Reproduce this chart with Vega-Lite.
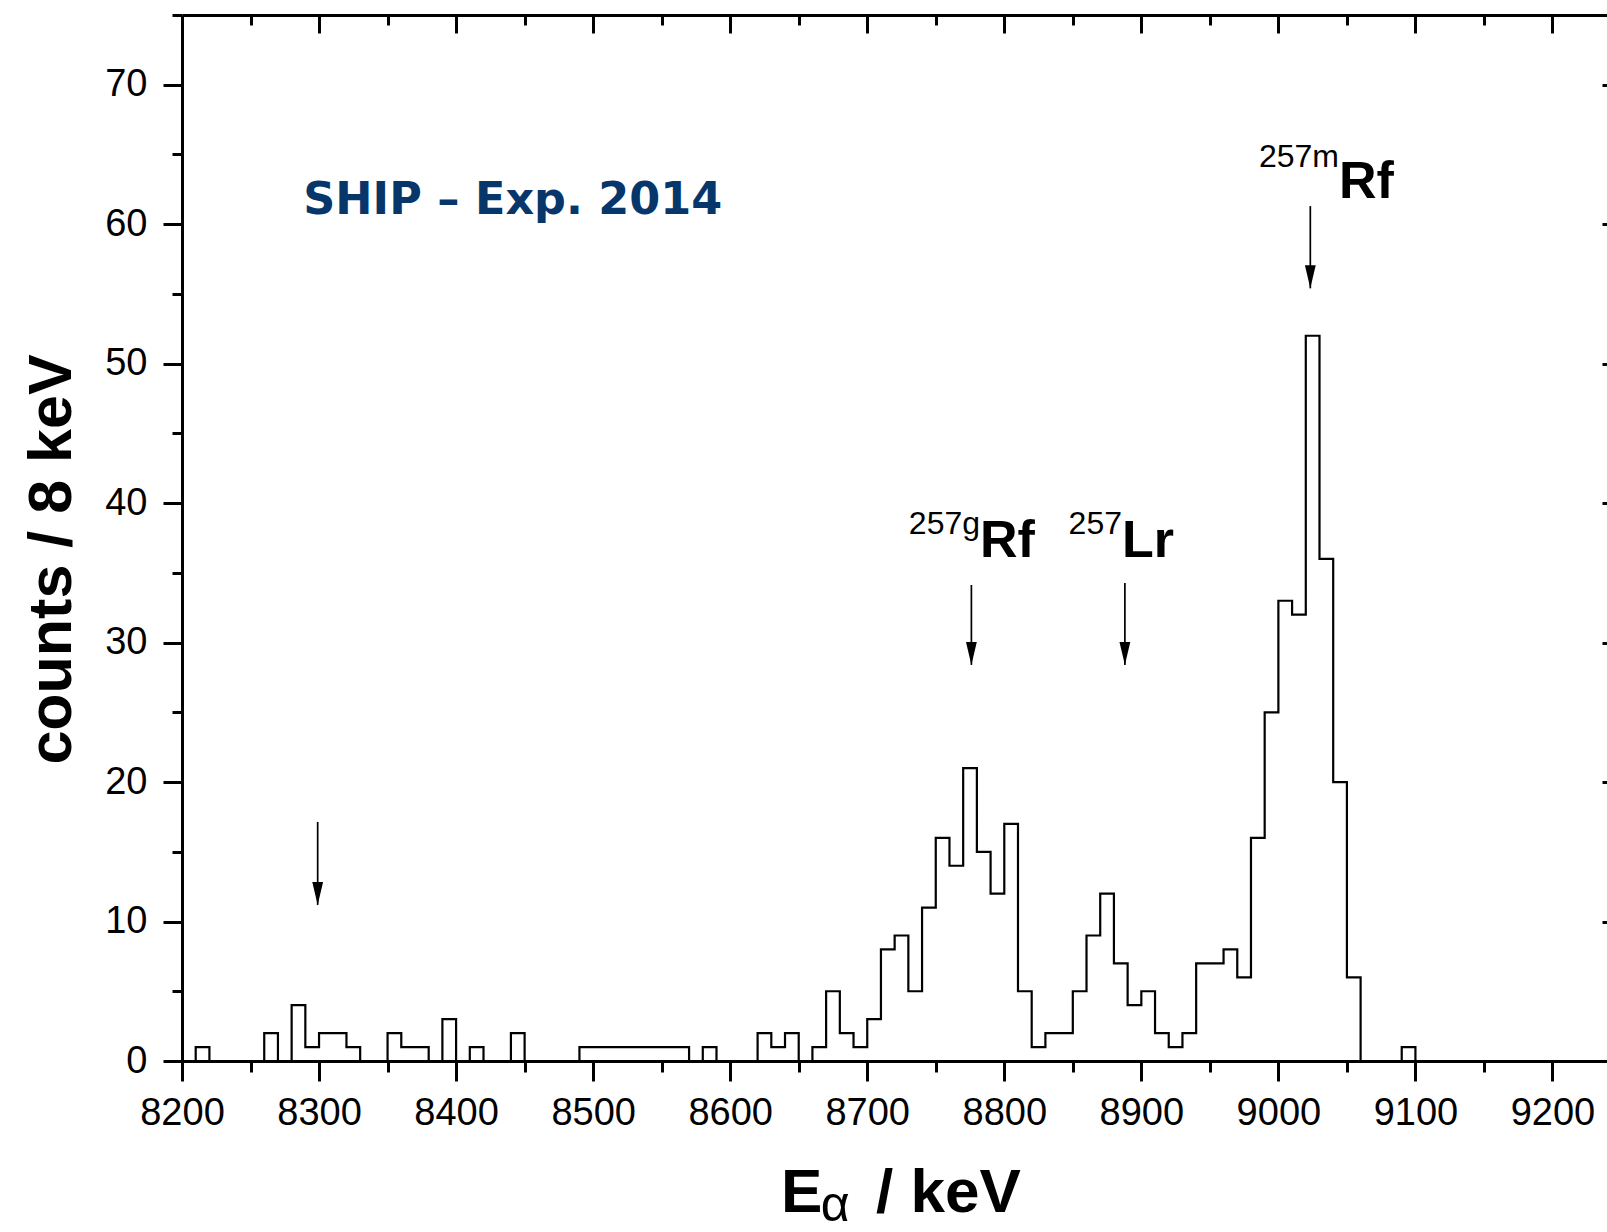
{
  "$schema": "https://vega.github.io/schema/vega-lite/v6.json",
  "width": 1439,
  "height": 1046,
  "autosize": {"type": "none"},
  "padding": {"left": 182, "top": 15, "right": -14, "bottom": 171},
  "background": "white",
  "config": {
    "view": {"stroke": null},
    "axis": {
      "grid": false,
      "domainColor": "black",
      "tickColor": "black",
      "domainWidth": 3,
      "tickWidth": 3,
      "labelColor": "black",
      "labelFont": "Liberation Sans",
      "labelFontSize": 38,
      "labelFlush": false,
      "labelOverlap": false
    }
  },
  "datasets": {
    "hist": [
      {"energy": 8200, "counts": 0}, {"energy": 8210, "counts": 1}, {"energy": 8220, "counts": 0},
      {"energy": 8230, "counts": 0}, {"energy": 8240, "counts": 0}, {"energy": 8250, "counts": 0},
      {"energy": 8260, "counts": 2}, {"energy": 8270, "counts": 0}, {"energy": 8280, "counts": 4},
      {"energy": 8290, "counts": 1}, {"energy": 8300, "counts": 2}, {"energy": 8310, "counts": 2},
      {"energy": 8320, "counts": 1}, {"energy": 8330, "counts": 0}, {"energy": 8340, "counts": 0},
      {"energy": 8350, "counts": 2}, {"energy": 8360, "counts": 1}, {"energy": 8370, "counts": 1},
      {"energy": 8380, "counts": 0}, {"energy": 8390, "counts": 3}, {"energy": 8400, "counts": 0},
      {"energy": 8410, "counts": 1}, {"energy": 8420, "counts": 0}, {"energy": 8430, "counts": 0},
      {"energy": 8440, "counts": 2}, {"energy": 8450, "counts": 0}, {"energy": 8460, "counts": 0},
      {"energy": 8470, "counts": 0}, {"energy": 8480, "counts": 0}, {"energy": 8490, "counts": 1},
      {"energy": 8500, "counts": 1}, {"energy": 8510, "counts": 1}, {"energy": 8520, "counts": 1},
      {"energy": 8530, "counts": 1}, {"energy": 8540, "counts": 1}, {"energy": 8550, "counts": 1},
      {"energy": 8560, "counts": 1}, {"energy": 8570, "counts": 0}, {"energy": 8580, "counts": 1},
      {"energy": 8590, "counts": 0}, {"energy": 8600, "counts": 0}, {"energy": 8610, "counts": 0},
      {"energy": 8620, "counts": 2}, {"energy": 8630, "counts": 1}, {"energy": 8640, "counts": 2},
      {"energy": 8650, "counts": 0}, {"energy": 8660, "counts": 1}, {"energy": 8670, "counts": 5},
      {"energy": 8680, "counts": 2}, {"energy": 8690, "counts": 1}, {"energy": 8700, "counts": 3},
      {"energy": 8710, "counts": 8}, {"energy": 8720, "counts": 9}, {"energy": 8730, "counts": 5},
      {"energy": 8740, "counts": 11}, {"energy": 8750, "counts": 16}, {"energy": 8760, "counts": 14},
      {"energy": 8770, "counts": 21}, {"energy": 8780, "counts": 15}, {"energy": 8790, "counts": 12},
      {"energy": 8800, "counts": 17}, {"energy": 8810, "counts": 5}, {"energy": 8820, "counts": 1},
      {"energy": 8830, "counts": 2}, {"energy": 8840, "counts": 2}, {"energy": 8850, "counts": 5},
      {"energy": 8860, "counts": 9}, {"energy": 8870, "counts": 12}, {"energy": 8880, "counts": 7},
      {"energy": 8890, "counts": 4}, {"energy": 8900, "counts": 5}, {"energy": 8910, "counts": 2},
      {"energy": 8920, "counts": 1}, {"energy": 8930, "counts": 2}, {"energy": 8940, "counts": 7},
      {"energy": 8950, "counts": 7}, {"energy": 8960, "counts": 8}, {"energy": 8970, "counts": 6},
      {"energy": 8980, "counts": 16}, {"energy": 8990, "counts": 25}, {"energy": 9000, "counts": 33},
      {"energy": 9010, "counts": 32}, {"energy": 9020, "counts": 52}, {"energy": 9030, "counts": 36},
      {"energy": 9040, "counts": 20}, {"energy": 9050, "counts": 6}, {"energy": 9060, "counts": 0},
      {"energy": 9070, "counts": 0}, {"energy": 9080, "counts": 0}, {"energy": 9090, "counts": 1},
      {"energy": 9100, "counts": 0}
    ],
    "arrows": [
      {"x": 8299, "y1": 17.14, "y2": 11.19},
      {"x": 8776, "y1": 34.13, "y2": 28.4},
      {"x": 8888, "y1": 34.27, "y2": 28.4},
      {"x": 9023.3, "y1": 61.3, "y2": 55.4}
    ],
    "sup": [
      {"x": 8782.3, "y": 37.79, "t": "257g"},
      {"x": 8885.9, "y": 37.79, "t": "257"},
      {"x": 9044.2, "y": 64.1, "t": "257m"}
    ],
    "nuclide": [
      {"x": 8782.3, "y": 36.14, "t": "Rf"},
      {"x": 8885.9, "y": 36.14, "t": "Lr"},
      {"x": 9044.2, "y": 61.86, "t": "Rf"}
    ],
    "title": [
      {"x": 8288.5, "y": 60.73, "t": "SHIP – Exp. 2014"}
    ],
    "xtitle": [
      {"x": 8637, "y": -10.83, "t": "E"},
      {"x": 8706.4, "y": -10.83, "t": "/ keV"}
    ],
    "xsub": [
      {"x": 8666, "y": -11.45, "t": "α"}
    ]
  },
  "resolve": {"axis": {"x": "independent", "y": "independent"}},
  "layer": [
    {
      "data": {"name": "hist"},
      "mark": {"type": "line", "interpolate": "step-after", "color": "black", "strokeWidth": 2.2},
      "encoding": {
        "x": {
          "field": "energy", "type": "quantitative",
          "scale": {"domain": [8200, 9250], "nice": false, "zero": false},
          "axis": {"orient": "bottom", "values": [8200, 8300, 8400, 8500, 8600, 8700, 8800, 8900, 9000, 9100, 9200], "format": "d", "tickSize": 20, "labelPadding": 13, "title": null, "domain": true}
        },
        "y": {
          "field": "counts", "type": "quantitative",
          "scale": {"domain": [0, 75], "nice": false, "zero": false},
          "axis": {
            "orient": "left", "values": [0, 10, 20, 30, 40, 50, 60, 70], "format": "d", "tickSize": 19, "labelPadding": 16, "domain": true,
            "title": "counts / 8 keV", "titleFont": "Liberation Sans", "titleFontSize": 61, "titleFontWeight": "bold", "titleColor": "black",
            "titleAngle": 270, "titleAlign": "center", "titleBaseline": "alphabetic", "titleX": -112, "titleY": 544
          }
        }
      }
    },
    {
      "data": {"name": "arrows"},
      "mark": {"type": "rule", "color": "black", "strokeWidth": 1.7},
      "encoding": {
        "x": {
          "field": "x", "type": "quantitative",
          "scale": {"domain": [8200, 9250], "nice": false, "zero": false},
          "axis": {"orient": "bottom", "values": [8250, 8350, 8450, 8550, 8650, 8750, 8850, 8950, 9050, 9150, 9250], "tickSize": 11, "labels": false, "domain": false, "title": null}
        },
        "y": {
          "field": "y1", "type": "quantitative",
          "scale": {"domain": [0, 75], "nice": false, "zero": false},
          "axis": {"orient": "left", "values": [5, 15, 25, 35, 45, 55, 65, 75], "tickSize": 10, "labels": false, "domain": false, "title": null}
        },
        "y2": {"field": "y2"}
      }
    },
    {
      "data": {"name": "arrows"},
      "mark": {"type": "point", "shape": "M -0.47 -2 L 0.47 -2 L 0 0 Z", "size": 529, "filled": true, "color": "black", "opacity": 1, "strokeWidth": 0},
      "encoding": {
        "x": {
          "field": "x", "type": "quantitative",
          "scale": {"domain": [8200, 9250], "nice": false, "zero": false},
          "axis": {"orient": "top", "values": [8200, 8300, 8400, 8500, 8600, 8700, 8800, 8900, 9000, 9100, 9200], "tickSize": -18, "labels": false, "domain": true, "title": null}
        },
        "y": {
          "field": "y2", "type": "quantitative",
          "scale": {"domain": [0, 75], "nice": false, "zero": false},
          "axis": {"orient": "right", "values": [0, 10, 20, 30, 40, 50, 60, 70], "tickSize": -19, "labels": false, "domain": true, "title": null}
        }
      }
    },
    {
      "data": {"name": "sup"},
      "mark": {"type": "text", "align": "right", "baseline": "alphabetic", "font": "Liberation Sans", "fontSize": 32, "color": "black"},
      "encoding": {
        "x": {
          "field": "x", "type": "quantitative",
          "scale": {"domain": [8200, 9250], "nice": false, "zero": false},
          "axis": {"orient": "top", "values": [8250, 8350, 8450, 8550, 8650, 8750, 8850, 8950, 9050, 9150, 9250], "tickSize": -10, "labels": false, "domain": false, "title": null}
        },
        "y": {
          "field": "y", "type": "quantitative",
          "scale": {"domain": [0, 75], "nice": false, "zero": false},
          "axis": {"orient": "right", "values": [5, 15, 25, 35, 45, 55, 65, 75], "tickSize": -10, "labels": false, "domain": false, "title": null}
        },
        "text": {"field": "t"}
      }
    },
    {
      "data": {"name": "nuclide"},
      "mark": {"type": "text", "align": "left", "baseline": "alphabetic", "font": "Liberation Sans", "fontWeight": "bold", "fontSize": 52, "color": "black"},
      "encoding": {
        "x": {"field": "x", "type": "quantitative", "scale": {"domain": [8200, 9250], "nice": false, "zero": false}, "axis": null},
        "y": {"field": "y", "type": "quantitative", "scale": {"domain": [0, 75], "nice": false, "zero": false}, "axis": null},
        "text": {"field": "t"}
      }
    },
    {
      "data": {"name": "title"},
      "mark": {"type": "text", "align": "left", "baseline": "alphabetic", "font": "DejaVu Sans", "fontWeight": "bold", "fontSize": 44.5, "color": "#06366a"},
      "encoding": {
        "x": {"field": "x", "type": "quantitative", "scale": {"domain": [8200, 9250], "nice": false, "zero": false}, "axis": null},
        "y": {"field": "y", "type": "quantitative", "scale": {"domain": [0, 75], "nice": false, "zero": false}, "axis": null},
        "text": {"field": "t"}
      }
    },
    {
      "data": {"name": "xtitle"},
      "mark": {"type": "text", "align": "left", "baseline": "alphabetic", "font": "Liberation Sans", "fontWeight": "bold", "fontSize": 62, "color": "black"},
      "encoding": {
        "x": {"field": "x", "type": "quantitative", "scale": {"domain": [8200, 9250], "nice": false, "zero": false}, "axis": null},
        "y": {"field": "y", "type": "quantitative", "scale": {"domain": [0, 75], "nice": false, "zero": false}, "axis": null},
        "text": {"field": "t"}
      }
    },
    {
      "data": {"name": "xsub"},
      "mark": {"type": "text", "align": "left", "baseline": "alphabetic", "font": "Liberation Sans", "fontSize": 50, "color": "black"},
      "encoding": {
        "x": {"field": "x", "type": "quantitative", "scale": {"domain": [8200, 9250], "nice": false, "zero": false}, "axis": null},
        "y": {"field": "y", "type": "quantitative", "scale": {"domain": [0, 75], "nice": false, "zero": false}, "axis": null},
        "text": {"field": "t"}
      }
    }
  ]
}
